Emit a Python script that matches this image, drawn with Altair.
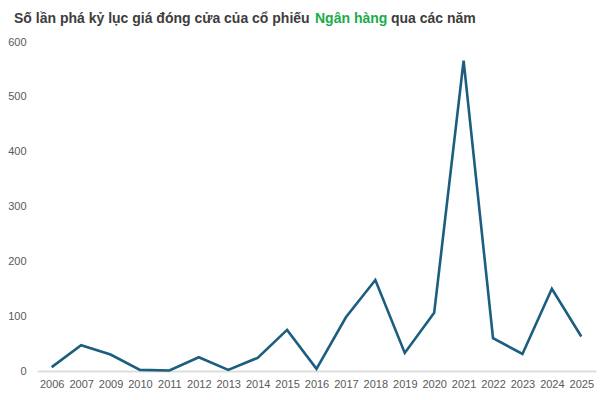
import altair as alt
import pandas as pd

years = ["2006", "2007", "2009", "2010", "2011", "2012", "2013", "2014", "2015", "2016",
         "2017", "2018", "2019", "2020", "2021", "2022", "2023", "2024", "2025"]
counts = [7, 47, 30, 2, 1, 25, 2, 24, 75, 4, 98, 166, 33, 106, 566, 60, 31, 150, 63]
y_ticks = [0, 100, 200, 300, 400, 500, 600]

title_part1 = "Số lần phá kỷ lục giá đóng cửa của cổ phiếu"
title_part2 = "Ngân hàng"
title_part3 = "qua các năm"

FONT = "Liberation Sans"

df = pd.DataFrame({"year": years, "count": counts})

line = alt.Chart(df).mark_line(color="#1b5e7e", strokeWidth=2.6, strokeJoin="miter").encode(
    x=alt.X("year:O", sort=years,
            scale=alt.Scale(type="point", padding=0.5),
            axis=alt.Axis(title=None, labelAngle=0, ticks=False, grid=False,
                          domainColor="#dedede", domainWidth=2,
                          labelColor="#595959", labelFontSize=11, labelFont=FONT,
                          labelPadding=7)),
    y=alt.Y("count:Q", scale=alt.Scale(domain=[0, 600], nice=False),
            axis=alt.Axis(title=None, values=y_ticks, ticks=False, grid=False, domain=False,
                          labelColor="#595959", labelFontSize=11, labelFont=FONT,
                          labelPadding=11))
)

def title_text(txt, xpos, color):
    return alt.Chart(pd.DataFrame({"t": [txt]})).mark_text(
        align="left", baseline="alphabetic", font=FONT, fontSize=14,
        fontWeight="bold", color=color
    ).encode(text="t:N", x=alt.value(xpos), y=alt.value(-19))

t1 = title_text(title_part1, -23, "#3d3d3d")
t2 = title_text(title_part2, 278, "#1aab4b")
t3 = title_text(title_part3, 354, "#3d3d3d")

chart = alt.layer(line, t1, t2, t3).properties(
    width=559, height=329,
    autosize=alt.AutoSizeParams(type="none"),
    padding={"left": 29, "top": 34, "right": 6, "bottom": 21}
).configure_view(stroke=None)

chart.save("out.html", embed_options={"renderer": "svg", "actions": False})
